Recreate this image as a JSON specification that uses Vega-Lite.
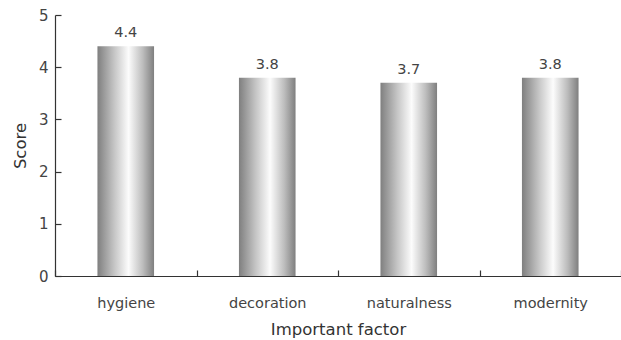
{
  "$schema": "https://vega.github.io/schema/vega-lite/v6.json",
  "width": 566,
  "height": 261,
  "autosize": {"type": "none"},
  "padding": {"left": 55, "top": 15, "right": 0, "bottom": 64},
  "background": "white",
  "config": {
    "view": {"stroke": null},
    "font": "DejaVu Sans",
    "axis": {"domainColor": "#333", "tickColor": "#333", "labelColor": "#444", "titleColor": "#333", "grid": false, "labelFont": "DejaVu Sans", "titleFont": "DejaVu Sans", "titleFontWeight": "normal", "ticks": true, "zindex": 1}
  },
  "data": {"values": [
    {"factor": "hygiene", "score": 4.4},
    {"factor": "decoration", "score": 3.8},
    {"factor": "naturalness", "score": 3.7},
    {"factor": "modernity", "score": 3.8}
  ]},
  "encoding": {
    "x": {"field": "factor", "type": "nominal", "sort": null, "title": "Important factor",
      "scale": {"paddingInner": 0, "paddingOuter": 0},
      "axis": {"labelAngle": 0, "labelFontSize": 14.5, "titleFontSize": 16.5, "ticks": true, "tickSize": -6, "tickBand": "extent", "labelPadding": 26, "titlePadding": 12, "domainWidth": 1.2, "tickWidth": 1.2, "zindex": 1}},
    "y": {"field": "score", "type": "quantitative", "title": "Score",
      "scale": {"domain": [0, 5]},
      "axis": {"values": [0,1,2,3,4,5], "labelOverlap": false, "labelFontSize": 15, "titleFontSize": 16.5, "ticks": true, "tickSize": -6, "labelPadding": 13, "titlePadding": 10, "domainWidth": 1.2, "tickWidth": 1.2, "zindex": 1}}
  },
  "layer": [
    {"mark": {"type": "bar", "width": {"band": 0.4}, "fill": {"x1": 0, "x2": 1, "y1": 0, "y2": 0, "gradient": "linear", "stops": [
      {"offset": 0, "color": "#7f7f7f"},
      {"offset": 0.3, "color": "#c6c6c6"},
      {"offset": 0.55, "color": "#fcfcfc"},
      {"offset": 0.8, "color": "#bdbdbd"},
      {"offset": 1, "color": "#7f7f7f"}]}}},
    {"mark": {"type": "text", "baseline": "bottom", "dy": -6, "fontSize": 14.5, "color": "#444"},
      "encoding": {"text": {"field": "score", "type": "quantitative", "format": ".1f"}}}
  ]
}
